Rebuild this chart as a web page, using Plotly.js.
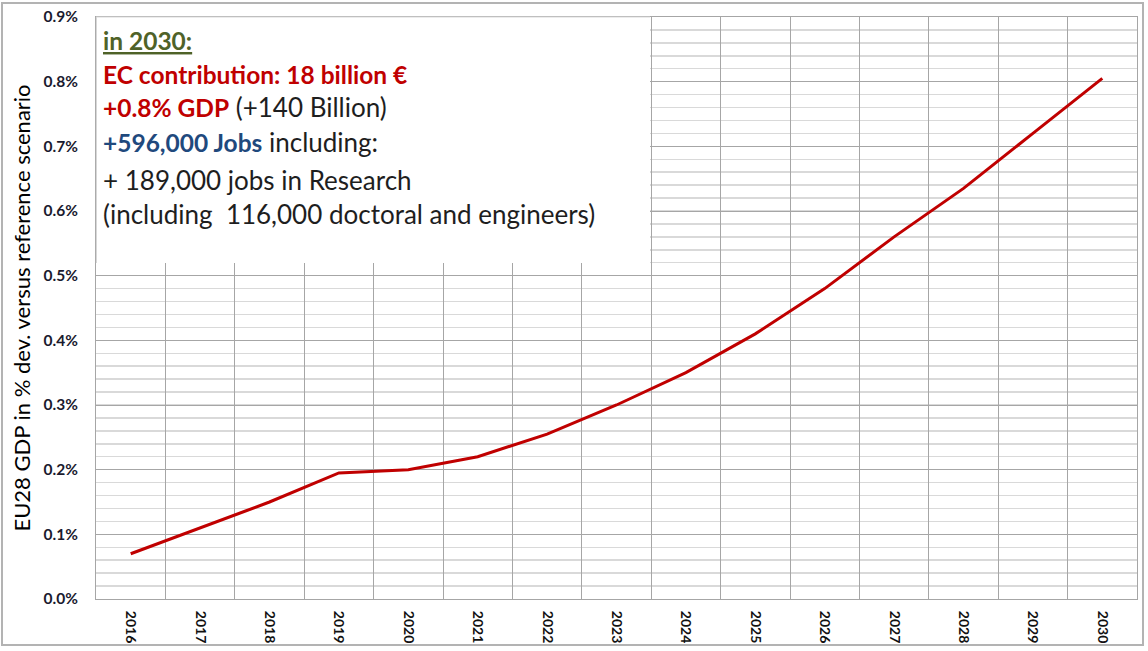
<!DOCTYPE html>
<html>
<head>
<meta charset="utf-8">
<script src="https://cdn.plot.ly/plotly-3.0.1.min.js"></script>
<style>
html,body{margin:0;padding:0;background:#fff;}
#chart{width:1148px;height:651px;}
</style>
</head>
<body>
<div id="chart"></div>
<script>
const years = ["2016","2017","2018","2019","2020","2021","2022","2023","2024","2025","2026","2027","2028","2029","2030"];
const gdpDeviation = [0.07,0.11,0.15,0.195,0.20,0.22,0.255,0.30,0.35,0.41,0.48,0.56,0.635,0.72,0.805];
const yTickValues = [0,0.1,0.2,0.3,0.4,0.5,0.6,0.7,0.8,0.9];
const yTickLabels = ["0.0%","0.1%","0.2%","0.3%","0.4%","0.5%","0.6%","0.7%","0.8%","0.9%"];
const yTitle = "EU28 GDP in % dev. versus reference scenario";
const BS = "<span style='font-size:24.5px'>";
const noteLines = [
  BS + "<b><u>in 2030:</u></b></span>",
  BS + "<b>EC contribution: 18 billion €</b></span>",
  "<span style='color:#c00000;font-size:24.5px'><b>+0.8% GDP</b></span> (+140 Billion)",
  "<span style='color:#1f497d;font-size:24.5px'><b>+596,000 Jobs</b></span> including:",
  "+ 189,000 jobs in Research",
  "(including  116,000 doctoral and engineers)"
];
const noteColors = ["#4f6228","#c00000","#1e1e1e","#1e1e1e","#1e1e1e","#1e1e1e"];

const L = 96, R = 11, T = 17, B = 52, W = 1148, H = 651;
const pw = W - L - R, ph = H - T - B;
const px = x => (x - L) / pw;
const py = y => (H - B - y) / ph;

const font = "Lato, 'Open Sans', sans-serif";

const trace = {
  x: years,
  y: gdpDeviation,
  type: "scatter",
  mode: "lines",
  line: {color: "#c00000", width: 3},
  hoverinfo: "x+y"
};

const annotations = noteLines.map((t, i) => ({
  xref: "paper", yref: "paper",
  x: px(101), y: py([41, 75, 107, 142, 180, 214][i]),
  xanchor: "left", yanchor: "middle",
  text: t, showarrow: false, align: "left",
  font: {family: font, size: 26, color: noteColors[i]}
}));

const layout = {
  width: W, height: H,
  margin: {l: L, r: R, t: T, b: B},
  paper_bgcolor: "#ffffff",
  plot_bgcolor: "#ffffff",
  showlegend: false,
  font: {family: font},
  xaxis: {
    type: "category",
    range: [-0.5, 14.5],
    tickson: "boundaries",
    showgrid: true,
    gridcolor: "#a6a6a6",
    gridwidth: 1,
    ticks: "",
    tickangle: 90,
    ticklabelstandoff: 8,
    tickfont: {family: font, size: 14, color: "#111", weight: "bold"},
    showline: true, linecolor: "#a6a6a6", linewidth: 1, mirror: true,
    zeroline: false,
    fixedrange: true
  },
  yaxis: {
    range: [0, 0.9],
    tickvals: yTickValues,
    ticktext: yTickLabels,
    showgrid: true,
    gridcolor: "#a6a6a6",
    gridwidth: 1,
    minor: {dtick: 0.02, showgrid: true, gridcolor: "#d9d9d9", gridwidth: 1.5, ticks: ""},
    ticks: "",
    ticklabelstandoff: 14,
    tickfont: {family: font, size: 15.5, color: "#1a1a2e", weight: "bold"},
    showline: true, linecolor: "#a6a6a6", linewidth: 1, mirror: true,
    zeroline: false,
    title: {text: yTitle, font: {family: font, size: 22, color: "#000"}, standoff: 6},
    fixedrange: true
  },
  shapes: [
    {type: "rect", xref: "paper", yref: "paper", layer: "above",
     x0: px(96), x1: px(650), y0: py(263), y1: py(17),
     fillcolor: "#ffffff", line: {width: 0}},
    {type: "line", xref: "paper", yref: "paper", layer: "above",
     x0: px(96), x1: px(96), y0: py(263), y1: py(17),
     line: {color: "#b0b0b0", width: 1}},
    {type: "line", xref: "paper", yref: "paper", layer: "above",
     x0: px(96), x1: px(650), y0: py(17), y1: py(17),
     line: {color: "#d9d9d9", width: 1}},
    {type: "rect", xref: "paper", yref: "paper", layer: "above",
     x0: px(2), x1: px(1143), y0: py(645), y1: py(3),
     line: {color: "#b3b3b3", width: 2}}
  ],
  annotations: annotations
};

Plotly.newPlot("chart", [trace], layout, {displayModeBar: false, staticPlot: true});
</script>
</body>
</html>
